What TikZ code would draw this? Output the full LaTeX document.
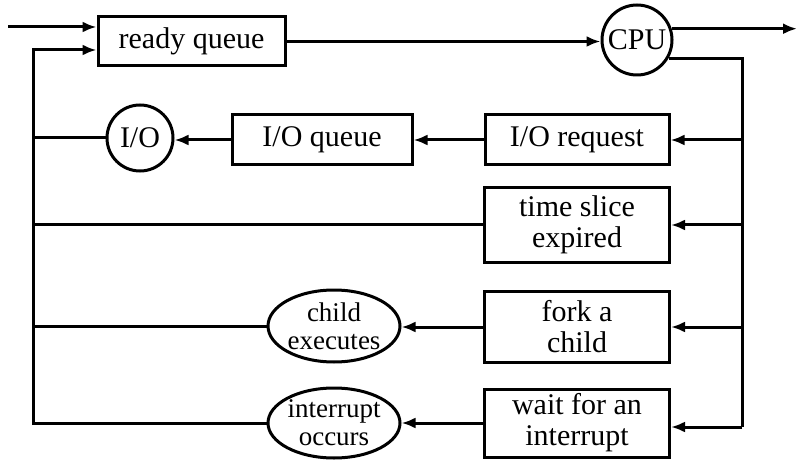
\documentclass[tikz,border=0pt]{standalone}
\usepackage{fontspec}
\setmainfont{Liberation Serif}
\usetikzlibrary{arrows.meta,shapes.geometric}
\begin{document}
\begin{tikzpicture}[x=1pt,y=-1pt,
  line width=3pt,
  arr/.style={-{Latex[length=14pt,width=11pt]}},
  boxn/.style={draw,rectangle,inner sep=0pt,align=center,font=\fontsize{30}{31}\selectfont},
  circn/.style={draw,circle,inner sep=0pt,font=\fontsize{30}{31}\selectfont},
  elln/.style={draw,ellipse,inner sep=0pt,align=center,minimum width=132pt,font=\fontsize{27}{28}\selectfont}]
\useasboundingbox (0,0) rectangle (797,462);
% nodes
\node[boxn,minimum width=187pt,minimum height=49pt] (rq) at (191.5,41.5) {ready queue};
\node[circn,minimum size=70pt] (cpu) at (637,40) {CPU};
\node[boxn,minimum width=184pt,minimum height=50pt] (ioreq) at (577,140) {I/O request};
\node[boxn,minimum width=180pt,minimum height=50pt] (ioq) at (322,140) {I/O queue};
\node[circn,minimum size=66pt] (io) at (140,138) {I/O};
\node[boxn,minimum width=185pt,minimum height=74pt] (ts) at (577,225) {time slice\\expired};
\node[boxn,minimum width=185pt,minimum height=71pt] (fork) at (577,327) {fork a\\child};
\node[boxn,minimum width=185pt,minimum height=68pt] (wait) at (577,423) {wait for an\\interrupt};
\node[elln,minimum height=72pt] (ce) at (334,326) {child\\executes};
\node[elln,minimum height=70pt] (ioc) at (334,423) {interrupt\\occurs};
% coordinates
\coordinate (in) at (8,27);
\coordinate (out) at (797,29);
\coordinate (Ltop) at (33,50);
\coordinate (Lbot) at (33,425);
\coordinate (Rbot) at (742,427);
% connectors
\draw[arr] (in) -- (in -| rq.west);
\draw[arr] (Lbot) -- (Ltop) -- (Ltop -| rq.west);
\draw[arr] (rq.east) -- (rq.east -| cpu.west);
\draw[arr] (cpu.18) -- (cpu.18 -| out);
\draw (cpu.-30) -| (Rbot);
\draw[arr] (Rbot |- ioreq) -- (ioreq.east);
\draw[arr] (Rbot |- ts) -- (ts.east);
\draw[arr] (Rbot |- fork) -- (fork.east);
\draw[arr] (Rbot) -- (Rbot -| wait.east);
\draw[arr] (ioreq.west) -- (ioq.east);
\draw[arr] (ioq.west) -- (ioq.west -| io.east);
\draw (io.west) -- (io.west -| Ltop);
\draw (ts.west) -- (ts.west -| Ltop);
\draw[arr] (fork.west) -- (fork.west -| ce.east);
\draw (ce.west) -- (ce.west -| Ltop);
\draw[arr] (wait.west) -- (wait.west -| ioc.east);
\draw (ioc.west) -- (ioc.west -| Ltop);
\end{tikzpicture}
\end{document}
